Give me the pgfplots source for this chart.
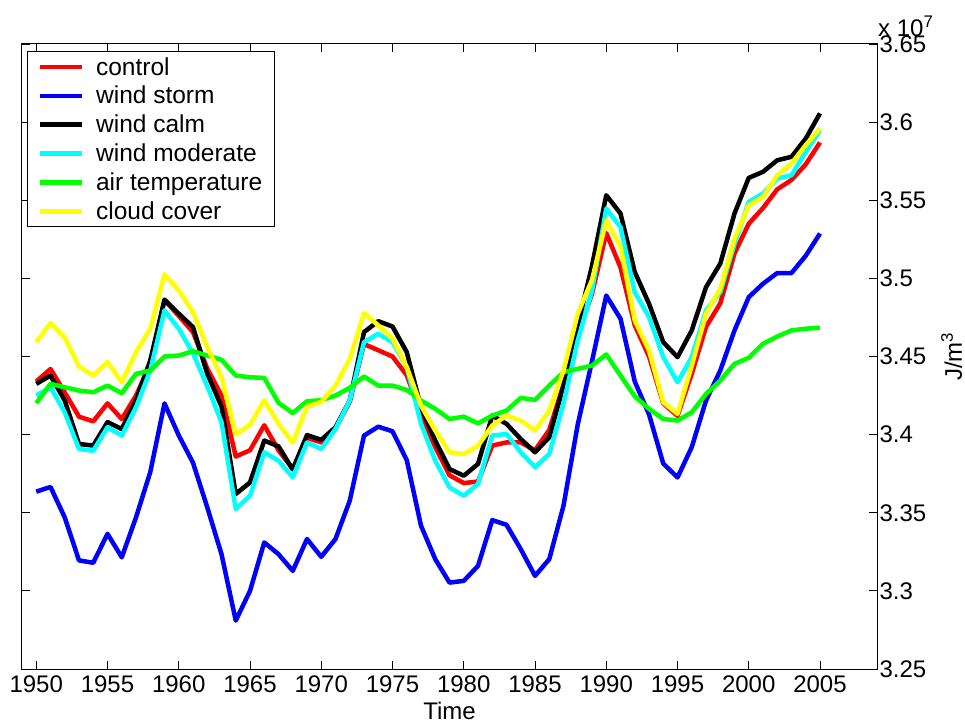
\documentclass[border=0pt]{standalone}
\usepackage{fontspec}
\setmainfont{Liberation Sans}
\usepackage{pgfplots}
\usepackage{pgfplotstable}
\pgfplotsset{compat=1.18}

\definecolor{runred}{RGB}{255,0,0}
\definecolor{runblue}{RGB}{0,0,255}
\definecolor{runcyan}{RGB}{0,255,255}
\definecolor{rungreen}{RGB}{0,255,0}
\definecolor{runyellow}{RGB}{255,255,0}

% Ocean heat content (x 10^7 J/m^3) for the control run and the five sensitivity runs
\pgfplotstableread{
year control storm  calm   moderate airtemp cloud
1950 3.434   3.3635 3.4325 3.425    3.4201  3.4592
1951 3.442   3.3665 3.4378 3.4303   3.4325  3.4714
1952 3.427   3.347  3.4218 3.4143   3.4303  3.462
1953 3.4115  3.3195 3.394  3.3908   3.4282  3.4436
1954 3.4085  3.318  3.393  3.3897   3.4271  3.4378
1955 3.420   3.3365 3.408  3.4047   3.4314  3.4464
1956 3.410   3.3215 3.4036 3.3994   3.4265  3.4335
1957 3.425   3.347  3.422  3.4175   3.4389  3.4528
1958 3.445   3.376  3.4474 3.441    3.441   3.4677
1959 3.486   3.420  3.4864 3.4795   3.450   3.5026
1960 3.476   3.3995 3.4774 3.4678   3.4506  3.4923
1961 3.4656  3.382  3.4688 3.452    3.4534  3.4784
1962 3.4423  3.3535 3.439  3.431    3.4506  3.456
1963 3.425   3.3235 3.418  3.408    3.4479  3.4367
1964 3.386   3.281  3.362  3.3524   3.4378  3.400
1965 3.390   3.300  3.3694 3.3609   3.4367  3.4063
1966 3.406   3.331  3.3962 3.3887   3.4363  3.422
1967 3.390   3.3235 3.3925 3.3833   3.4204  3.4069
1968 3.378   3.3128 3.3777 3.3726   3.4138  3.395
1969 3.398   3.3332 3.3997 3.395    3.4214  3.418
1970 3.395   3.3218 3.3967 3.3908   3.422   3.421
1971 3.404   3.3332 3.4047 3.4036   3.425   3.4314
1972 3.421   3.3577 3.4218 3.4218   3.430   3.4485
1973 3.458   3.3994 3.4656 3.4592   3.4372  3.4778
1974 3.454   3.4051 3.4726 3.4645   3.4314  3.4699
1975 3.450   3.4021 3.4692 3.4592   3.4314  3.4613
1976 3.438   3.3837 3.4528 3.4432   3.4286  3.4432
1977 3.413   3.3417 3.4175 3.4069   3.4218  3.4186
1978 3.392   3.3203 3.3962 3.3833   3.4165  3.4026
1979 3.374   3.3053 3.378  3.3662   3.410   3.3887
1980 3.369   3.3064 3.3737 3.3609   3.4115  3.3876
1981 3.370   3.316  3.3812 3.3684   3.4072  3.3929
1982 3.393   3.3453 3.4122 3.3994   3.4122  3.4058
1983 3.395   3.3423 3.4069 3.4004   3.4154  3.4122
1984 3.395   3.3267 3.3972 3.3887   3.4235  3.409
1985 3.390   3.3096 3.3887 3.3792   3.4222  3.4026
1986 3.403   3.3203 3.3983 3.3876   3.4314  3.4154
1987 3.432   3.3545 3.4314 3.420    3.440   3.441
1988 3.4645  3.4065 3.470  3.4603   3.4421  3.4774
1989 3.490   3.447  3.508  3.492    3.4442  3.499
1990 3.529   3.489  3.5532 3.5447   3.4513  3.5372
1991 3.507   3.4742 3.5415 3.5329   3.4378  3.5201
1992 3.470   3.434  3.5041 3.4912   3.4245  3.4731
1993 3.450   3.413  3.4838 3.4752   3.4165  3.4538
1994 3.420   3.3815 3.4592 3.4496   3.410   3.4207
1995 3.412   3.3726 3.4496 3.4335   3.409   3.4133
1996 3.439   3.392  3.4667 3.4496   3.4143  3.4442
1997 3.469   3.4218 3.4944 3.4795   3.426   3.4774
1998 3.484   3.441  3.5094 3.4912   3.4346  3.4934
1999 3.516   3.4667 3.5415 3.5222   3.4453  3.5254
2000 3.535   3.488  3.5643 3.549    3.4492  3.5468
2001 3.545   3.4966 3.5682 3.5543   3.4581  3.5521
2002 3.557   3.5034 3.5756 3.5639   3.4628  3.566
2003 3.563   3.5034 3.5778 3.566    3.4667  3.5735
2004 3.573   3.5145 3.5895 3.581    3.4678  3.5853
2005 3.587   3.5287 3.6056 3.5949   3.4684  3.596
}\heatdata

\begin{document}
\begin{tikzpicture}
\begin{axis}[
  scale only axis,
  width=855pt, height=625pt,
  xmin=1949, xmax=2009,
  ymin=3.25, ymax=3.65,
  xtick={1950,1955,...,2005},
  ytick={3.25,3.3,3.35,3.4,3.45,3.5,3.55,3.6,3.65},
  yticklabel pos=right,
  scaled y ticks=false,
  /pgf/number format/1000 sep={},
  /pgf/number format/assume math mode=true,
  tick align=inside,
  major tick length=8pt,
  every tick/.style={black, line width=0.8pt},
  axis line style={line width=1pt},
  tick label style={font=\fontsize{24}{28}\selectfont},
  xticklabel style={yshift=-3pt},
  yticklabel style={xshift=-1pt},
  label style={font=\fontsize{24}{28}\selectfont},
  xlabel={Time},
  xlabel style={yshift=-3pt},
  ylabel={J/m\textsuperscript{3}},
  ylabel style={yshift=-8pt},
  legend cell align=left,
  legend style={
    at={(0.006,0.989)}, anchor=north west,
    draw=black, line width=1pt, fill=white,
    font=\fontsize{24.5}{28}\selectfont,
    inner xsep=10pt, inner ysep=4pt,
    row sep=5.6pt, column sep=10pt,
  },
  legend image code/.code={\draw[#1] (0pt,0pt) -- (42pt,0pt);},
  every axis plot/.append style={line width=4.5pt, line join=round, mark=none},
]
\addplot[runred]    table[x=year, y=control]  {\heatdata};
\addplot[runblue]   table[x=year, y=storm]    {\heatdata};
\addplot[black]     table[x=year, y=calm]     {\heatdata};
\addplot[runcyan]   table[x=year, y=moderate] {\heatdata};
\addplot[rungreen]  table[x=year, y=airtemp]  {\heatdata};
\addplot[runyellow] table[x=year, y=cloud]    {\heatdata};
\legend{control, wind storm, wind calm, wind moderate, air temperature, cloud cover}
\coordinate (sw) at (rel axis cs:0,0);
\coordinate (ne) at (rel axis cs:1,1);
\end{axis}
\node[anchor=base west, font=\fontsize{24}{28}\selectfont, inner sep=0pt]
  at ([shift={(1pt,7pt)}]ne) {x 10\textsuperscript{7}};
\pgfresetboundingbox
\path[use as bounding box] ([shift={(-22pt,-54pt)}]sw) rectangle ([shift={(88pt,44pt)}]ne);
\end{tikzpicture}
\end{document}
